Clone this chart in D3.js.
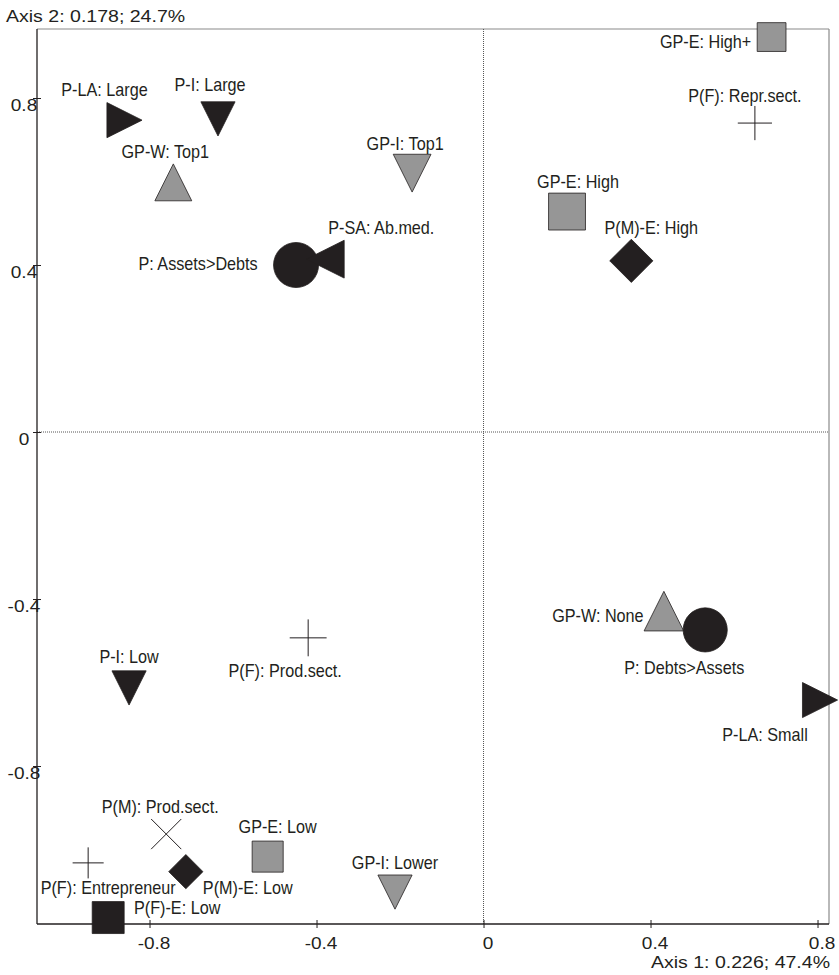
<!DOCTYPE html>
<html>
<head>
<meta charset="utf-8">
<script src="https://cdn.jsdelivr.net/npm/d3@7"></script>
<style>
  html, body { margin: 0; padding: 0; background: #fff; }
  svg { display: block; }
  text { font-family: "Liberation Sans", Arial, Helvetica, sans-serif; fill: #231f20; }
</style>
</head>
<body>
<svg id="chart" width="839" height="975"></svg>
<script>
// Category labels (variable: modality)
const categories = [
  "P-LA: Large", "P-I: Large", "GP-W: Top1", "GP-I: Top1", "P: Assets>Debts",
  "P-SA: Ab.med.", "GP-E: High+", "P(F): Repr.sect.", "GP-E: High", "P(M)-E: High",
  "GP-W: None", "P: Debts>Assets", "P-LA: Small", "P-I: Low", "P(F): Prod.sect.",
  "P(M): Prod.sect.", "P(F): Entrepreneur", "P(M)-E: Low", "GP-E: Low", "GP-I: Lower",
  "P(F)-E: Low"
];
// Coordinates on axis 1 and axis 2
const axis1 = [
  -0.860, -0.636, -0.743, -0.171, -0.449,
  -0.379,  0.690,  0.650,  0.200,  0.354,
   0.432,  0.531,  0.806, -0.849, -0.420,
  -0.760, -0.947, -0.713, -0.517, -0.212,
  -0.899
];
const axis2 = [
   0.747,  0.750,  0.598,  0.620,  0.400,
   0.414,  0.946,  0.740,  0.528,  0.410,
  -0.429, -0.474, -0.642, -0.613, -0.493,
  -0.963, -1.032, -1.053, -1.017, -1.102,
  -1.163
];
// Relative weight of each modality (drives marker size)
const weights = [
  0.78, 0.76, 0.82, 0.84, 1.00,
  0.84, 0.64, 0.76, 0.82, 0.96,
  0.88, 0.98, 0.78, 0.76, 0.82,
  0.67, 0.69, 0.76, 0.69, 0.76,
  0.71
];
const tickValues = [-0.8, -0.4, 0, 0.4, 0.8];
const axisTitleX = "Axis 1: 0.226; 47.4%";
const axisTitleY = "Axis 2: 0.178; 24.7%";

// Marker style per variable
const BLACK = "#231f20", GREY = "#969696";
const variableStyle = {
  "P-LA":   { shape: "triRight", fill: BLACK },
  "P-I":    { shape: "triDown",  fill: BLACK },
  "GP-W":   { shape: "triUp",    fill: GREY },
  "GP-I":   { shape: "triDown",  fill: GREY },
  "P":      { shape: "circle",   fill: BLACK },
  "P-SA":   { shape: "triLeft",  fill: BLACK },
  "GP-E":   { shape: "square",   fill: GREY },
  "P(F)":   { shape: "plus",     fill: "none" },
  "P(M)-E": { shape: "diamond",  fill: BLACK },
  "P(M)":   { shape: "cross",    fill: "none" },
  "P(F)-E": { shape: "square",   fill: BLACK }
};

// Label placement relative to the marker centre (px)
const labelOffset = [
  [-20, -31], [-8, -34], [-8, -31], [-7, -30], [-98, -1],
  [56, -32], [-66, 5], [-10, -27], [11, -30], [20, -33],
  [-66, 4], [-21, 38], [-55, 35], [0, -31], [-23, 33],
  [-6, -27], [20, 25], [62, 16], [10, -30], [0, -30],
  [69, -10]
];

const svg = d3.select("#chart");
const plotLeft = 37, plotRight = 829, plotTop = 29, plotBottom = 924;

const x = d3.scaleLinear().domain([-1.0695, 0.8275]).range([plotLeft, plotRight]);
const y = d3.scaleLinear().domain([-1.1784, 0.9653]).range([plotBottom, plotTop]);
const size = d3.scaleLinear().domain([0, 1]).range([0, 45]);

// Frame: grey top/right, black left/bottom
svg.append("line").attr("x1", plotLeft).attr("x2", plotRight).attr("y1", plotTop).attr("y2", plotTop)
  .attr("stroke", "#8a8a8a").attr("stroke-width", 1.2);
svg.append("line").attr("x1", plotRight).attr("x2", plotRight).attr("y1", plotTop).attr("y2", plotBottom)
  .attr("stroke", "#8a8a8a").attr("stroke-width", 1.2);

// Zero reference lines
svg.append("line").attr("x1", x(0)).attr("x2", x(0)).attr("y1", plotTop).attr("y2", plotBottom)
  .attr("stroke", "#555").attr("stroke-width", 1).attr("stroke-dasharray", "1,1");
svg.append("line").attr("x1", plotLeft).attr("x2", plotRight).attr("y1", y(0)).attr("y2", y(0))
  .attr("stroke", "#555").attr("stroke-width", 1).attr("stroke-dasharray", "1,1");

// Bottom axis
const gx = svg.append("g").attr("transform", `translate(0,${plotBottom})`)
  .call(d3.axisBottom(x).tickValues(tickValues).tickSize(4).tickFormat(""));
gx.select(".domain").attr("stroke", BLACK).attr("stroke-width", 1.3).attr("d", `M${plotLeft},0H${plotRight}`);
gx.selectAll(".tick line").attr("y1", -4).attr("y2", 4).attr("stroke", BLACK);
gx.selectAll(".tick text").remove();
gx.selectAll(".tick").append("text")
  .attr("transform", "translate(4,25) scale(1.12,1)")
  .attr("text-anchor", "middle")
  .style("font-size", "17px")
  .text(d => String(d));

// Left axis
const gy = svg.append("g").attr("transform", `translate(${plotLeft},0)`)
  .call(d3.axisLeft(y).tickValues(tickValues).tickSize(4).tickFormat(""));
gy.select(".domain").attr("stroke", BLACK).attr("stroke-width", 1.3).attr("d", `M0,${plotTop}V${plotBottom}`);
gy.selectAll(".tick line").attr("x1", 4).attr("x2", -4).attr("stroke", BLACK);
gy.selectAll(".tick text").remove();
gy.selectAll(".tick").append("text")
  .attr("transform", "translate(-13,12.5) scale(1.12,1)")
  .attr("text-anchor", "middle")
  .style("font-size", "17px")
  .text(d => String(d));

// Axis titles
svg.append("text").attr("transform", "translate(6,22) scale(1.15,1)")
  .style("font-size", "17px").text(axisTitleY);
svg.append("text").attr("transform", "translate(830,968) scale(1.15,1)")
  .attr("text-anchor", "end").style("font-size", "17px").text(axisTitleX);

// Marker shapes centred on the origin
function markerPath(shape, s) {
  const h = s / 2;
  switch (shape) {
    case "triUp":    return `M0,${-h}L${h},${h}L${-h},${h}Z`;
    case "triDown":  return `M${-h},${-h}L${h},${-h}L0,${h}Z`;
    case "triRight": return `M${-h},${-h}L${h},0L${-h},${h}Z`;
    case "triLeft":  return `M${h},${-h}L${-h},0L${h},${h}Z`;
    case "square":   return `M${-h},${-h}H${h}V${h}H${-h}Z`;
    case "diamond":  return `M0,${-h}L${h},0L0,${h}L${-h},0Z`;
    case "circle":   return `M${h},0A${h},${h} 0 1,1 ${-h},0A${h},${h} 0 1,1 ${h},0Z`;
    case "plus":     return `M${-h},0H${h}M0,${-h}V${h}`;
    case "cross":    return `M${-h},${-h}L${h},${h}M${-h},${h}L${h},${-h}`;
  }
}

const points = categories.map((label, i) => {
  const variable = label.slice(0, label.indexOf(":"));
  return { label, variable, a1: axis1[i], a2: axis2[i], w: weights[i], off: labelOffset[i],
           style: variableStyle[variable] };
});

// Markers
svg.append("g").selectAll("path").data(points).join("path")
  .attr("transform", d => `translate(${x(d.a1)},${y(d.a2)})`)
  .attr("d", d => markerPath(d.style.shape, size(d.w)))
  .attr("fill", d => d.style.fill)
  .attr("stroke", BLACK)
  .attr("stroke-width", d => d.style.fill === "none" ? 1 : 0.8)
  .attr("stroke-linejoin", "miter");

// Labels
svg.append("g").selectAll("text").data(points).join("text")
  .attr("transform", d => `translate(${x(d.a1) + d.off[0]},${y(d.a2) + d.off[1] + 6.4}) scale(0.9,1)`)
  .attr("text-anchor", "middle")
  .style("font-size", "18px")
  .text(d => d.label);
</script>
</body>
</html>
